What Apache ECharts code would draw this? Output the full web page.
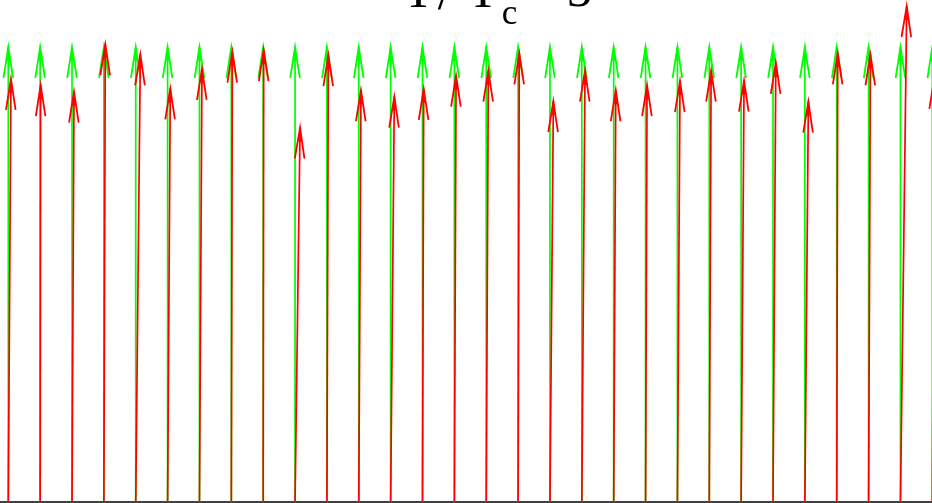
<!DOCTYPE html>
<html><head><meta charset="utf-8">
<script src="https://cdn.jsdelivr.net/npm/echarts@6/dist/echarts.min.js"></script>
<style>html,body{margin:0;padding:0;background:#fff}#c{width:932px;height:503px}</style>
</head><body><div id="c"></div>
<script>
// spin site positions
const sites = [0,1,2,3,4,5,6,7,8,9,10,11,12,13,14,15,16,17,18,19,20,21,22,23,24,25,26,27,28,29];
// reference (ordered) spins: green
const refU = [0,0,0,0,0,0,0,0,0,0,0,0,0,0,0,0,0,0,0,0,0,0,0,0,0,0,0,0,0,0];
const refV = [1,1,1,1,1,1,1,1,1,1,1,1,1,1,1,1,1,1,1,1,1,1,1,1,1,1,1,1,1,1];
// thermal spins: red
const spinU = [0.0059,0.0011,0.0044,0.0031,0.0101,0.0059,0.0055,0.0022,0.0011,0.0110,
               0.0031,0.0048,0.0081,0.0026,0.0037,0.0046,0.0026,0.0075,0.0070,0.0046,
               0.0033,0.0057,0.0040,0.0064,0.0062,0.0077,0.0022,0.0040,0.0138,0.0044];
const spinV = [0.930,0.916,0.902,1.006,0.984,0.909,0.952,0.990,0.993,0.823,
               0.982,0.905,0.891,0.908,0.937,0.948,0.986,0.881,0.948,0.905,
               0.916,0.925,0.948,0.926,0.965,0.880,0.986,0.984,1.090,0.932];

function arrow(color){
  return function(params, api){
    const x = api.value(0), u = api.value(1), v = api.value(2);
    const base = api.coord([x, 0]);
    const unit = api.size([0, 1])[1];
    const tx = base[0] + u*unit, ty = base[1] - v*unit;
    const dx = tx - base[0], dy = ty - base[1];
    const L = Math.hypot(dx, dy);
    const ex = dx/L, ey = dy/L, nx = -ey, ny = ex;
    const HL = 31, HW = 4.8;
    const p = (a, b) => [tx - ex*a + nx*b, ty - ey*a + ny*b];
    return {type:'group', children:[
      {type:'line', shape:{x1:base[0], y1:base[1], x2:tx, y2:ty},
        style:{stroke:color, lineWidth:1.7}},
      {type:'polyline', shape:{points:[p(HL,HW), p(0,0), p(HL,-HW)]},
        style:{stroke:color, lineWidth:1.8, fill:null, lineJoin:'miter', miterLimit:20}},
      {type:'polygon', shape:{points:[p(0,0), p(14,1.6), p(14,-1.6)]},
        style:{fill:color, stroke:null}}
    ]};
  };
}

const chart = echarts.init(document.getElementById('c'), null, {renderer:'canvas'});
const serif = '"Liberation Serif", "DejaVu Serif", serif';
chart.setOption({
  animation:false,
  backgroundColor:'#fff',
  grid:{left:0, right:0, top:0, bottom:1, containLabel:false},
  xAxis:{type:'value', min:-0.26, max:28.99, axisLine:{show:true, onZero:false, lineStyle:{color:'#000', width:1.5}},
    axisTick:{show:false}, axisLabel:{show:false}, splitLine:{show:false}},
  yAxis:{type:'value', min:0, max:1.1033, show:false, splitLine:{show:false}},
  graphic:[
    {type:'text', x:418.5, y:-6, style:{text:'T', font:'50px '+serif, fill:'#000', align:'center', verticalAlign:'middle'}},
    {type:'text', x:445, y:-5, style:{text:'/', font:'52px '+serif, fill:'#000', align:'center', verticalAlign:'middle'}},
    {type:'text', x:483, y:-6, style:{text:'T', font:'50px '+serif, fill:'#000', align:'center', verticalAlign:'middle'}},
    {type:'text', x:509.5, y:14.5, style:{text:'c', font:'35px '+serif, fill:'#000', align:'center', verticalAlign:'middle'}},
    {type:'text', x:541, y:-14, style:{text:'=', font:'50px '+serif, fill:'#000', align:'center', verticalAlign:'middle'}},
    {type:'text', x:579.5, y:-7, style:{text:'3', font:'50px '+serif, fill:'#000', align:'center', verticalAlign:'middle'}}
  ],
  series:[
    {type:'custom', renderItem:arrow('#00ff00'), clip:false,
      data: sites.map((s,i)=>[s, refU[i], refV[i]]), encode:{x:0, y:2}, z:2},
    {type:'custom', renderItem:arrow('#ff0000'), clip:false,
      data: sites.map((s,i)=>[s, spinU[i], spinV[i]]), encode:{x:0, y:2}, z:3}
  ]
});
</script></body></html>
